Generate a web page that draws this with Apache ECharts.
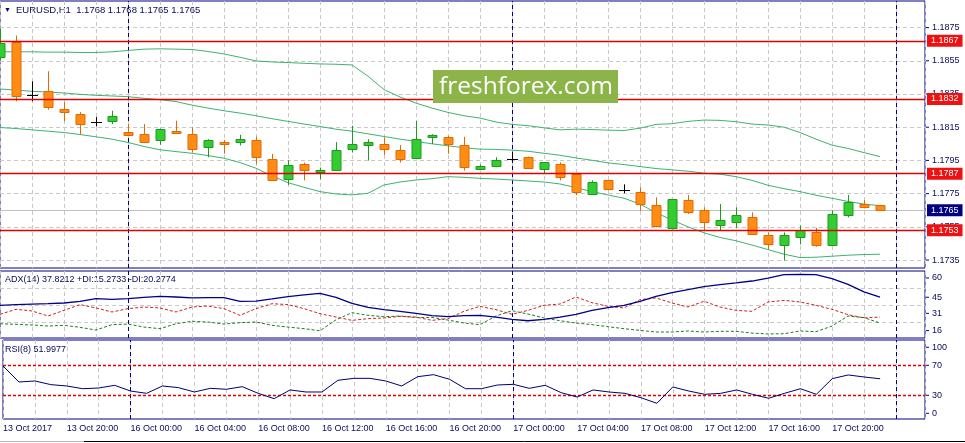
<!DOCTYPE html>
<html><head><meta charset="utf-8">
<script src="https://cdn.jsdelivr.net/npm/echarts@6/dist/echarts.min.js"></script>
<style>html,body{margin:0;padding:0;background:#fff}#c{width:965px;height:443px}</style>
</head><body><div id="c"></div>
<script>
// ---- data (hourly bars, 13 Oct 16:00 .. 17 Oct 23:00) ----
const firstBarOffset = -8; // bar index of 13 Oct 16:00 relative to 16 Oct 00:00
const open = [1.18573,1.18666,1.18346,1.18366,1.18261,1.18229,1.18181,1.18185,
  1.18120,1.18108,1.18072,1.18128,1.18108,1.18030,1.18060,1.18060,1.18074,1.17957,
  1.17836,1.17929,1.17879,1.17893,1.18018,1.18042,1.18048,1.18012,1.17966,1.18090,
  1.18092,1.18042,1.17897,1.17919,1.17957,1.17969,1.17897,1.17927,1.17867,1.17746,
  1.17830,1.17772,1.17758,1.17679,1.17544,1.17711,1.17649,1.17562,1.17577,1.17607,
  1.17498,1.17438,1.17486,1.17516,1.17438,1.17619,1.17685,1.1768];
const high = [1.18742,1.18702,1.18426,1.18487,1.18301,1.18241,1.18211,1.18249,
  1.18169,1.18169,1.18142,1.18189,1.18150,1.18078,1.18074,1.18104,1.18094,1.17989,
  1.17951,1.17937,1.17907,1.18060,1.18159,1.18078,1.18088,1.18042,1.18187,1.18108,
  1.18098,1.18092,1.17925,1.17969,1.18003,1.17973,1.17939,1.17939,1.17867,1.17830,
  1.17830,1.17806,1.17788,1.17728,1.17716,1.17742,1.17667,1.17687,1.17667,1.17637,
  1.17516,1.17516,1.17558,1.17544,1.17649,1.17742,1.17711,1.1768];
const low = [1.18551,1.18306,1.18306,1.18255,1.18185,1.18104,1.18155,1.18169,
  1.18098,1.18054,1.18044,1.18114,1.17997,1.17969,1.17990,1.18040,1.17927,1.17826,
  1.17802,1.17830,1.17836,1.17889,1.17997,1.17949,1.17983,1.17937,1.17957,1.18048,
  1.17990,1.17889,1.17893,1.17909,1.17949,1.17907,1.17873,1.17830,1.17740,1.17746,
  1.17770,1.17752,1.17647,1.17546,1.17534,1.17627,1.17530,1.17530,1.17544,1.17504,
  1.17413,1.17347,1.17444,1.17430,1.17438,1.17607,1.17661,1.1765];
const close = [1.18658,1.18336,1.18346,1.18269,1.18241,1.18169,1.18181,1.18217,
  1.18102,1.18060,1.18138,1.18118,1.18018,1.18072,1.18048,1.18078,1.17971,1.17830,
  1.17921,1.17891,1.17891,1.18012,1.18048,1.18060,1.18018,1.17957,1.18078,1.18102,
  1.18048,1.17909,1.17919,1.17951,1.17957,1.17907,1.17939,1.17848,1.17758,1.17818,
  1.17776,1.17772,1.17685,1.17556,1.17716,1.17637,1.17577,1.17589,1.17619,1.17504,
  1.17444,1.17498,1.17528,1.17440,1.17627,1.17697,1.17667,1.1765];
const bbUpper = [1.18604,1.18604,1.18604,1.18602,1.18602,1.18600,1.18600,1.18604,
  1.18612,1.18620,1.18622,1.18620,1.18618,1.18606,1.18591,1.18571,1.18549,1.18543,
  1.18539,1.18535,1.18531,1.18529,1.18525,1.18457,1.18376,1.18332,1.18295,1.18265,
  1.18239,1.18219,1.18205,1.18181,1.18167,1.18159,1.18146,1.18134,1.18138,1.18136,
  1.18132,1.18130,1.18144,1.18167,1.18171,1.18185,1.18193,1.18191,1.18183,1.18169,
  1.18163,1.18150,1.18118,1.18078,1.18042,1.18022,1.17997,1.17973];
const bbMiddle = [1.18380,1.18374,1.18366,1.18362,1.18356,1.18348,1.18342,1.18338,
  1.18334,1.18324,1.18316,1.18304,1.18283,1.18265,1.18249,1.18235,1.18219,1.18201,
  1.18185,1.18169,1.18154,1.18138,1.18126,1.18110,1.18094,1.18078,1.18064,1.18050,
  1.18038,1.18026,1.18018,1.18016,1.18012,1.18005,1.17993,1.17981,1.17965,1.17951,
  1.17935,1.17925,1.17913,1.17901,1.17893,1.17885,1.17873,1.17867,1.17852,1.17830,
  1.17800,1.17780,1.17762,1.17740,1.17722,1.17703,1.17687,1.17677];
const bbLower = [1.18148,1.18142,1.18134,1.18126,1.18118,1.18106,1.18092,1.18078,
  1.18058,1.18034,1.18014,1.18003,1.17993,1.17979,1.17963,1.17937,1.17903,1.17856,
  1.17816,1.17788,1.17762,1.17748,1.17742,1.17752,1.17802,1.17820,1.17832,1.17840,
  1.17852,1.17848,1.17842,1.17838,1.17832,1.17826,1.17820,1.17808,1.17786,1.17762,
  1.17742,1.17722,1.17687,1.17635,1.17591,1.17550,1.17514,1.17486,1.17466,1.17440,
  1.17413,1.17385,1.17365,1.17367,1.17373,1.17379,1.17383,1.17385];
const adx = [30.6,31.2,31.7,32.0,32.6,34.1,36.4,35.8,
  36.4,37.5,38.4,37.8,37.0,37.2,37.2,34.1,34.3,36.1,
  38.1,39.6,41.0,37.5,32.3,28.8,26.8,25.4,23.6,21.6,
  20.7,21.6,21.9,20.4,18.4,17.2,18.4,20.4,22.8,26.2,
  28.5,30.6,34.1,38.4,41.6,44.2,46.8,48.5,50.0,51.7,
  54.3,57.2,57.5,57.2,53.8,48.8,42.2,37.8];
const plusDI = [14.6,14.1,13.5,12.6,13.2,11.5,9.1,13.8,
  14.3,11.7,10.3,14.6,16.7,16.1,14.3,15.5,16.1,13.2,
  11.7,10.3,8.5,18.0,24.2,21.9,20.7,21.3,19.9,20.1,
  17.8,15.2,13.8,21.3,25.9,23.0,19.6,17.2,15.2,13.8,
  12.0,10.3,8.8,7.4,7.4,8.3,7.4,8.0,8.0,6.5,
  5.7,5.9,8.3,7.7,12.6,21.3,19.9,15.2];
const minusDI = [22.8,27.1,25.7,21.3,26.2,31.2,28.3,24.8,
  27.7,29.1,28.3,24.8,29.1,30.0,27.7,21.9,27.7,32.0,
  31.2,27.7,23.3,20.4,17.5,19.0,19.6,21.0,20.4,17.5,
  19.0,25.4,29.7,26.8,22.8,26.2,30.6,31.7,37.8,32.9,
  29.7,28.3,35.5,37.0,32.6,29.1,34.1,29.1,26.2,25.4,
  33.5,34.9,33.5,30.6,27.1,22.5,19.6,20.4];
const rsi = [69.1,47.7,49.1,44.2,42.4,38.8,39.7,43.3,
  35.7,32.6,42.4,40.2,34.4,39.3,38.0,41.5,32.6,25.5,
  37.1,34.4,34.4,50.0,52.6,52.6,49.1,42.4,54.8,57.5,
  51.3,38.8,38.8,43.7,44.6,39.3,43.3,33.5,27.7,37.1,
  34.4,32.6,26.8,19.3,41.1,35.7,31.3,32.6,37.1,31.3,
  26.0,32.6,38.8,31.3,52.2,57.1,54.4,52.0];
const timeLabels = ['13 Oct 2017','13 Oct 20:00','16 Oct 00:00','16 Oct 04:00','16 Oct 08:00',
  '16 Oct 12:00','16 Oct 16:00','16 Oct 20:00','17 Oct 00:00','17 Oct 04:00','17 Oct 08:00',
  '17 Oct 12:00','17 Oct 16:00','17 Oct 20:00'];
const daySeparators = [0, 24, 48];
const priceTicks = [1.1735,1.1755,1.1775,1.1795,1.1815,1.1835,1.1855,1.1875];
const levelLines = [1.1867,1.1832,1.1787,1.1753];
const bidPrice = 1.1765;
const adxTicks = [60,45,31,16];
const rsiLevels = [70,30];
const rsiTicks = [100,0];

// ---- styles ----
const FONT = 'Liberation Sans, Arial, sans-serif';
const NAVY = '#000080';
const TXT = '#0a0a5a';
const GRIDC = '#c8c8c8';
const RED = '#e00000';
const xs = (i) => i + firstBarOffset;
const pts = (arr) => arr.map((v, i) => [xs(i), v]);
const candleData = open.map((o, i) => [xs(i), o, high[i], low[i], close[i]]);

function xAxisFor(gi, showLabels) {
  return {
    type: 'value', gridIndex: gi, min: -8, max: 49.8125, interval: 2,
    axisLine: {show: false}, axisTick: {show: false},
    splitLine: {show: true, lineStyle: {color: GRIDC, type: [4, 3], width: 1}},
    axisLabel: showLabels ? {
      show: true, align: 'left', margin: 5, color: TXT, fontSize: 9, fontFamily: FONT,
      showMaxLabel: false,
      formatter: function (v) {
        const i = Math.round((v + 8) / 4);
        if (Math.abs((v + 8) / 4 - i) > 1e-6) return '';
        return i >= 0 && i < timeLabels.length ? timeLabels[i] : '';
      }
    } : {show: false}
  };
}
function yAxisFor(gi, min, max) {
  return {type: 'value', gridIndex: gi, position: 'right', min: min, max: max, scale: true,
    axisLine: {show: false}, axisTick: {show: false}, axisLabel: {show: false}, splitLine: {show: false}};
}
const sepLines = daySeparators.map(k => ({xAxis: k, lineStyle: {color: NAVY, type: [4, 3], width: 1}, label: {show: false}}));
// price-scale label with a small tick mark to the right of the frame
const tickLabel = (txt, extra) => Object.assign({show: true, position: 'end', distance: 1,
  formatter: '{t|}{v|' + txt + '}',
  rich: {t: {width: 3, height: 1, backgroundColor: NAVY}, v: {color: TXT, fontSize: 9, fontFamily: FONT, padding: [0, 0, 0, 3]}},
  color: TXT, fontSize: 9, fontFamily: FONT}, extra || {});
const boxLabel = (txt, bg) => ({show: true, position: 'end', distance: 2, formatter: txt, color: '#fff',
  backgroundColor: bg, padding: [1, 4, 1, 4], fontSize: 9, fontFamily: FONT, lineHeight: 10});

const GREEN = '#33cc33', GREEN_D = '#1f9a1f', ORANGE = '#ff8c14', ORANGE_D = '#e06a00';
const BB = '#3cb371';

const option = {
  animation: false,
  grid: [
    {left: 0, right: 40, top: 1, height: 267, show: true, borderColor: NAVY, borderWidth: 1, backgroundColor: '#fff'},
    {left: 0, right: 40, top: 271, height: 67, show: true, borderColor: NAVY, borderWidth: 1, backgroundColor: '#fff'},
    {left: 0, right: 40, top: 340, height: 79, show: true, borderColor: NAVY, borderWidth: 1, backgroundColor: '#fff'}
  ],
  xAxis: [xAxisFor(0, false), xAxisFor(1, false), xAxisFor(2, true)],
  yAxis: [yAxisFor(0, 1.17302, 1.18910), yAxisFor(1, 2.2, 60.4), yAxisFor(2, -1.6, 103.7)],
  graphic: [
    {type: 'text', x: 4, y: 10, style: {text: '\u25BC', fill: NAVY, font: '7px ' + FONT, verticalAlign: 'middle'}},
    {type: 'text', x: 16, y: 10, style: {
      text: 'EURUSD,H1  ' + [open, high, low, close].map(a => a[a.length - 1].toFixed(4)).join(' '),
      fill: TXT, font: '9.5px ' + FONT, verticalAlign: 'middle'}},
    {type: 'text', x: 5, y: 280, style: {text: 'ADX(14) 37.8212 +DI:15.2733 -DI:20.2774', fill: TXT, font: '9px ' + FONT, verticalAlign: 'middle'}},
    {type: 'text', x: 5, y: 350, style: {text: 'RSI(8) 51.9977', fill: TXT, font: '9px ' + FONT, verticalAlign: 'middle'}},
    {type: 'rect', z: 50, shape: {x: 433, y: 70, width: 185, height: 33}, style: {fill: '#8cb449'}},
    {type: 'text', z: 51, x: 526, y: 87, style: {text: 'freshforex.com', fill: '#fff', font: '24.5px "Open Sans"', align: 'center', verticalAlign: 'middle'}},
    {type: 'line', shape: {x1: 0, y1: 441.5, x2: 84, y2: 441.5}, style: {stroke: '#b8b8b8', lineWidth: 1}},
    {type: 'line', shape: {x1: 84, y1: 441.5, x2: 965, y2: 441.5}, style: {stroke: '#000', lineWidth: 1}}
  ],
  series: [
    // Bollinger upper band, also carries the price grid lines, price labels, bid line and day separators
    {type: 'line', xAxisIndex: 0, yAxisIndex: 0, data: pts(bbUpper), showSymbol: false, symbol: 'none',
      lineStyle: {color: BB, width: 1}, z: 2,
      markLine: {silent: true, symbol: 'none', z: 1, precision: 6, animation: false, data: [
        ...priceTicks.map(v => ({yAxis: v, lineStyle: {color: GRIDC, type: [4, 3], width: 1}, label: tickLabel(v.toFixed(4))})),
        {yAxis: bidPrice, lineStyle: {color: '#c0c0c0', type: 'solid', width: 1}, label: boxLabel(bidPrice.toFixed(4), NAVY)},
        ...sepLines
      ]}},
    {type: 'line', xAxisIndex: 0, yAxisIndex: 0, data: pts(bbMiddle), showSymbol: false, symbol: 'none',
      lineStyle: {color: BB, width: 1}, z: 2},
    {type: 'line', xAxisIndex: 0, yAxisIndex: 0, data: pts(bbLower), showSymbol: false, symbol: 'none',
      lineStyle: {color: BB, width: 1}, z: 2},
    {type: 'custom', xAxisIndex: 0, yAxisIndex: 0, data: candleData, z: 3, clip: true,
      encode: {x: 0, y: [1, 2, 3, 4]},
      renderItem: function (params, api) {
        const k = api.value(0), o = api.value(1), h = api.value(2), l = api.value(3), c = api.value(4);
        const pH = api.coord([k, h]), pL = api.coord([k, l]), pO = api.coord([k, o]), pC = api.coord([k, c]);
        const x = Math.round(pH[0]) + 0.5;
        const ch = [];
        if (o === c) {
          ch.push({type: 'line', shape: {x1: x, y1: pH[1], x2: x, y2: pL[1]}, style: {stroke: '#000', lineWidth: 1}});
          const y = Math.round(pO[1]) + 0.5;
          ch.push({type: 'line', shape: {x1: x - 5.5, y1: y, x2: x + 5.5, y2: y}, style: {stroke: '#000', lineWidth: 1}});
        } else {
          const up = c > o;
          const fill = up ? GREEN : ORANGE, stroke = up ? GREEN_D : ORANGE_D;
          ch.push({type: 'line', shape: {x1: x, y1: pH[1], x2: x, y2: pL[1]}, style: {stroke: stroke, lineWidth: 1}});
          const top = Math.round(Math.min(pO[1], pC[1])) + 0.5;
          const bot = Math.round(Math.max(pO[1], pC[1])) + 0.5;
          ch.push({type: 'rect', shape: {x: x - 4.5, y: top, width: 9, height: Math.max(1, bot - top)},
            style: {fill: fill, stroke: stroke, lineWidth: 1}});
        }
        return {type: 'group', children: ch};
      }},
    // support / resistance levels (main panel)
    {type: 'line', name: 'levels', xAxisIndex: 0, yAxisIndex: 0, data: [], silent: true,
      color: RED, lineStyle: {color: RED},
      markLine: {silent: true, symbol: 'none', z: 10, precision: 6, animation: false,
        lineStyle: {color: RED, type: 'solid', width: 1.4},
        data: levelLines.map(v => ({yAxis: v, label: boxLabel(v.toFixed(4), '#ee1111')}))}},
    // ADX panel
    {type: 'line', xAxisIndex: 1, yAxisIndex: 1, data: pts(adx), showSymbol: false, symbol: 'none',
      lineStyle: {color: '#00008b', width: 1.3}, z: 3,
      markLine: {silent: true, symbol: 'none', z: 1, precision: 4, animation: false, data: [
        ...adxTicks.map((v, i) => ({yAxis: v,
          lineStyle: i === 0 ? {color: 'rgba(0,0,0,0)', width: 0} : {color: GRIDC, type: [4, 3], width: 1},
          label: tickLabel(String(v), {verticalAlign: 'top', padding: [i === 0 ? 2 : 4, 0, 0, 0]})})),
        ...sepLines
      ]}},
    {type: 'line', xAxisIndex: 1, yAxisIndex: 1, data: pts(plusDI), showSymbol: false, symbol: 'none',
      lineStyle: {color: '#1e7d1e', width: 1, type: [3, 2]}, z: 2},
    {type: 'line', xAxisIndex: 1, yAxisIndex: 1, data: pts(minusDI), showSymbol: false, symbol: 'none',
      lineStyle: {color: '#d02020', width: 1, type: [3, 2]}, z: 2},
    // RSI panel
    {type: 'line', xAxisIndex: 2, yAxisIndex: 2, data: pts(rsi), showSymbol: false, symbol: 'none',
      lineStyle: {color: '#00006e', width: 1}, z: 3,
      markLine: {silent: true, symbol: 'none', z: 1, precision: 4, animation: false, data: [
        ...rsiTicks.map(v => ({yAxis: v, lineStyle: {color: 'rgba(0,0,0,0)', width: 0},
          label: tickLabel(String(v), {verticalAlign: v === 0 ? 'bottom' : 'top'})})),
        ...sepLines
      ]}},
    // RSI 70 / 30 levels
    {type: 'line', name: 'rsiLevels', xAxisIndex: 2, yAxisIndex: 2, data: [], silent: true,
      color: RED, lineStyle: {color: RED},
      markLine: {silent: true, symbol: 'none', z: 1, precision: 4, animation: false,
        lineStyle: {color: RED, type: [3, 2], width: 1.4},
        data: rsiLevels.map(v => ({yAxis: v, label: tickLabel(String(v))}))}}
  ]
};
const chart = echarts.init(document.getElementById('c'), null, {renderer: 'canvas'});
chart.setOption(option);
</script>
</body></html>
